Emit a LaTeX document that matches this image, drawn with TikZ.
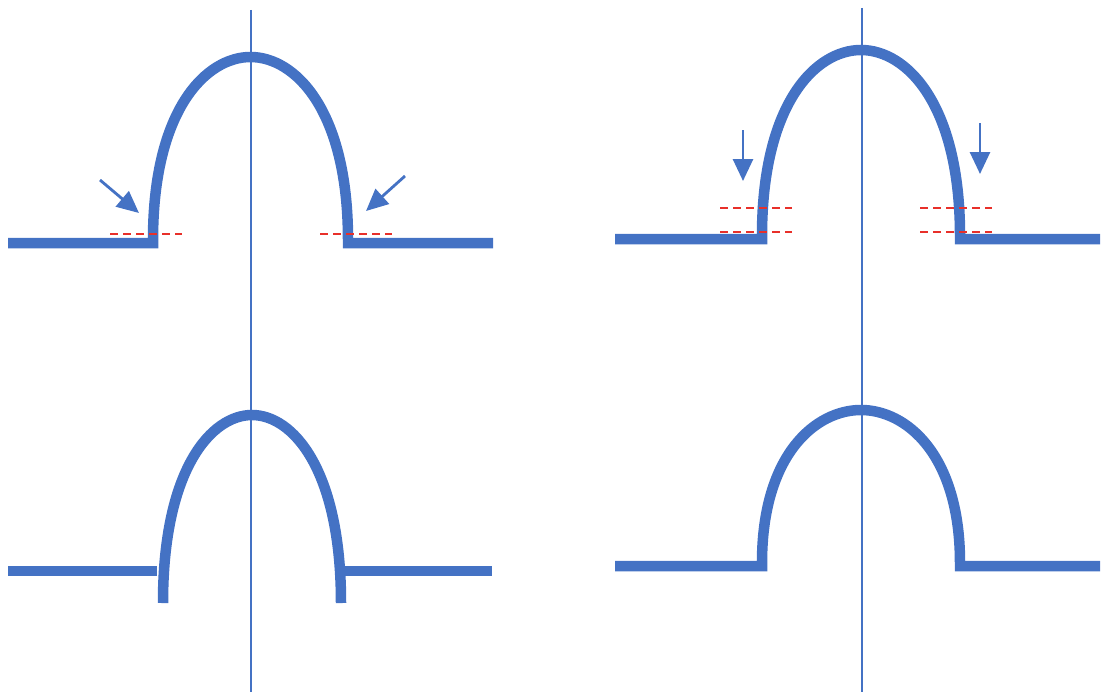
\documentclass[tikz,border=0pt]{standalone}
\usetikzlibrary{arrows.meta}
\definecolor{ablue}{HTML}{4472C4}
\definecolor{dred}{HTML}{E8302A}
\tikzset{
  shell/.style={draw=ablue, line width=10.5pt, line join=miter},
  axisline/.style={draw=ablue, line width=1.8pt},
  gap/.style={draw=dred, line width=2.1pt, dash pattern=on 8pt off 5pt},
  push/.style={draw=ablue, fill=ablue, line width=2.8pt, -{Triangle[length=22pt,width=20pt]}}
}
\begin{document}
\begin{tikzpicture}[x=1pt,y=-1pt]
\useasboundingbox (0,0) rectangle (1101,693);
% axes
\draw[axisline] (251,10) -- (251,692);
\draw[axisline] (862,8) -- (862,692);
% top-left
\draw[shell] (8,243) -- (153,243) -- (153,240)
  .. controls (153,109) and (206.5,57) .. (250.5,57)
  .. controls (294.5,57) and (348,109) .. (348,240) -- (348,243) -- (493,243);
\draw[gap] (110,234) -- (182,234);
\draw[gap] (320,234) -- (392,234);
\coordinate (a1s) at (100,180); \coordinate (a1e) at (139,213);
\coordinate (a2s) at (405,176); \coordinate (a2e) at (366,211);
\draw[push] (a1s) -- (a1e);
\draw[push] (a2s) -- (a2e);
% top-right
\draw[shell] (615,239) -- (762,239) -- (762,236)
  .. controls (762,103) and (816,50) .. (861,50)
  .. controls (906,50) and (960,103) .. (960,236) -- (960,239) -- (1100,239);
\draw[gap] (720,208) -- (792,208);
\draw[gap] (720,232) -- (792,232);
\draw[gap] (920,208) -- (992,208);
\draw[gap] (920,232) -- (992,232);
\coordinate (b1s) at (743,130); \coordinate (b1e) at (743,181);
\coordinate (b2s) at (980,123); \coordinate (b2e) at (980,174);
\draw[push] (b1s) -- (b1e);
\draw[push] (b2s) -- (b2e);
% bottom-left
\draw[shell] (8,571) -- (157,571);
\draw[shell] (163,603) .. controls (163,468) and (212,415) .. (252,415)
  .. controls (292,415) and (341,468) .. (341,603);
\draw[shell] (343,571) -- (492,571);
% bottom-right
\draw[shell] (615,566) -- (762,566) -- (762,563)
  .. controls (762,454) and (816,410) .. (861,410)
  .. controls (906,410) and (960,454) .. (960,563) -- (960,566) -- (1100,566);
\end{tikzpicture}
\end{document}
